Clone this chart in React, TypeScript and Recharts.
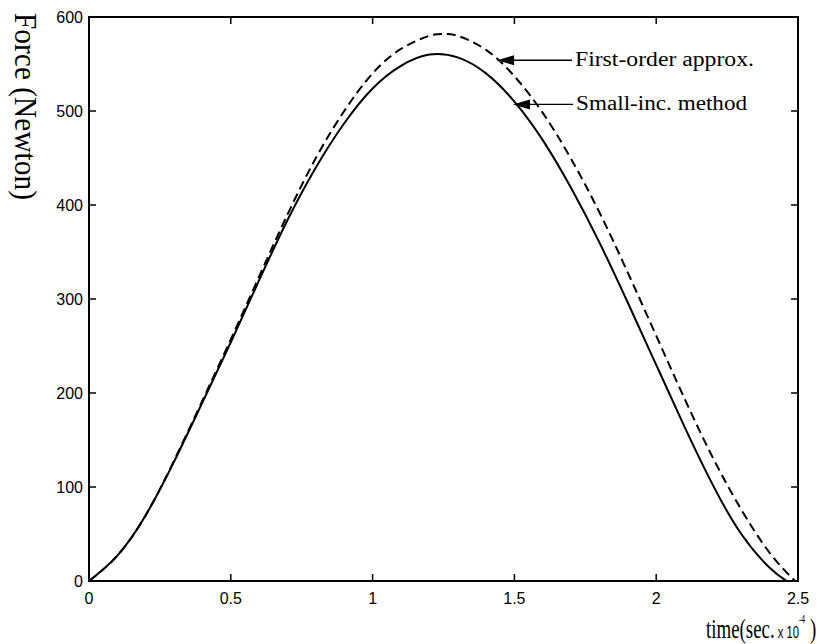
import React from 'react';
import { LineChart, Line, XAxis, YAxis, ReferenceArea, ReferenceLine } from 'recharts';

const W = 821;
const H = 644;
const MARGIN = { top: 17, right: 23, bottom: 33, left: 29 };
const Y_AXIS_W = 60;
const X_AXIS_H = 30;
const PLOT = {
  left: MARGIN.left + Y_AXIS_W,
  right: W - MARGIN.right,
  top: MARGIN.top,
  bottom: H - MARGIN.bottom - X_AXIS_H,
};

const xTicks = [0, 0.5, 1, 1.5, 2, 2.5];
const xTickLabels = ['0', '0.5', '1', '1.5', '2', '2.5'];
const yTicks = [0, 100, 200, 300, 400, 500, 600];
const yTickLabels = ['0', '100', '200', '300', '400', '500', '600'];

// Small-inc. method (solid)
const smallIncTime = [0, 0.1, 0.2, 0.3, 0.4, 0.5, 0.6, 0.7, 0.8, 0.9, 1.0, 1.1, 1.2, 1.3, 1.4, 1.5, 1.6, 1.7, 1.8, 1.9, 2.0, 2.1, 2.2, 2.3, 2.4, 2.46];
const smallIncForce = [0, 27, 70, 127, 190, 254, 320, 384, 440, 487, 524, 548, 560, 557, 540, 510, 469, 418, 360, 296, 230, 164, 102, 50, 14, 0];

// First-order approx. (dashed)
const firstOrderTime = [0, 0.1, 0.2, 0.3, 0.4, 0.5, 0.6, 0.7, 0.8, 0.9, 1.0, 1.1, 1.2, 1.25, 1.3, 1.4, 1.5, 1.6, 1.7, 1.8, 1.9, 2.0, 2.1, 2.2, 2.3, 2.4, 2.49];
const firstOrderForce = [0, 27, 70, 128, 192, 257, 324, 390, 450, 500, 540, 566, 580, 582, 580, 565, 537, 498, 449, 392, 328, 261, 194, 131, 76, 30, 0];

const annotationLabels = ['First-order approx.', 'Small-inc. method'];
const annotationTips = [
  { t: 1.439, f: 554 },
  { t: 1.495, f: 507 },
];
const annotationEndT = [1.703, 1.707];

const smallIncData = smallIncTime.map((t, i) => ({ t, f: smallIncForce[i] }));
const firstOrderData = firstOrderTime.map((t, i) => ({ t, f: firstOrderForce[i] }));

const SANS = 'Liberation Sans, Arial, Helvetica, sans-serif';
const SERIF = 'Liberation Serif, Times New Roman, Times, serif';
const TICK_LEN = 7;

const XTick = (props: any) => {
  const { x, payload } = props;
  const idx = xTicks.indexOf(payload.value);
  return (
    <g>
      <line x1={x} x2={x} y1={PLOT.bottom} y2={PLOT.bottom - TICK_LEN} stroke="#000" strokeWidth={1.5} />
      <line x1={x} x2={x} y1={PLOT.top} y2={PLOT.top + TICK_LEN} stroke="#000" strokeWidth={1.5} />
      <text x={x} y={PLOT.bottom + 23} textAnchor="middle" fontFamily={SANS} fontSize={16} fill="#000">
        {idx >= 0 ? xTickLabels[idx] : ''}
      </text>
    </g>
  );
};

const YTick = (props: any) => {
  const { y, payload } = props;
  const idx = yTicks.indexOf(payload.value);
  return (
    <g>
      <line x1={PLOT.left} x2={PLOT.left + TICK_LEN} y1={y} y2={y} stroke="#000" strokeWidth={1.5} />
      <line x1={PLOT.right} x2={PLOT.right - TICK_LEN} y1={y} y2={y} stroke="#000" strokeWidth={1.5} />
      <text x={PLOT.left - 6} y={y + 5.5} textAnchor="end" fontFamily={SANS} fontSize={16} fill="#000">
        {idx >= 0 ? yTickLabels[idx] : ''}
      </text>
    </g>
  );
};

const XTitle = () => {
  const base = PLOT.bottom + 57;
  return (
    <g transform={`translate(${PLOT.right - 92}, ${base}) scale(0.7, 1)`}>
      <text x={0} y={0} fill="#000">
        <tspan fontFamily={SERIF} fontSize={27}>time(sec.</tspan>
        <tspan fontFamily={SANS} fontSize={16}> x 10</tspan>
        <tspan fontFamily={SANS} fontSize={10} dy={-15}>-4</tspan>
        <tspan fontFamily={SERIF} fontSize={27} dy={15}> )</tspan>
      </text>
    </g>
  );
};

const YTitle = () => (
  <g transform={`translate(15, 13) rotate(90)`}>
    <text x={0} y={0} fontFamily={SERIF} fontSize={31} fill="#000" textLength={187} lengthAdjust="spacingAndGlyphs">
      Force (Newton)
    </text>
  </g>
);

const makeArrow = (text: string) => (props: any) => {
  const { x1, y1, x2 } = props;
  const head = 17;
  const hw = 5;
  return (
    <g>
      <line x1={x1 + head} y1={y1} x2={x2} y2={y1} stroke="#000" strokeWidth={1.3} />
      <polygon points={`${x1},${y1} ${x1 + head},${y1 - hw} ${x1 + head},${y1 + hw}`} fill="#000" />
      <text x={x2 + 3} y={y1 + 6} fontFamily={SERIF} fontSize={20} fill="#000" textLength={text.length > 17 ? 179 : 171} lengthAdjust="spacingAndGlyphs">
        {text}
      </text>
    </g>
  );
};

export default function App() {
  return (
    <div style={{ position: 'absolute', left: 0, top: 0, width: W, height: H, background: '#fff' }}>
      <LineChart width={W} height={H} margin={MARGIN}>
        <XAxis
          dataKey="t"
          type="number"
          domain={[0, 2.5]}
          ticks={xTicks}
          interval={0}
          allowDataOverflow
          height={X_AXIS_H}
          tickLine={false}
          axisLine={{ stroke: '#000', strokeWidth: 2 }}
          tick={(p: any) => <XTick {...p} />}
          label={() => <XTitle />}
        />
        <YAxis
          type="number"
          domain={[0, 600]}
          ticks={yTicks}
          interval={0}
          allowDataOverflow
          width={Y_AXIS_W}
          tickLine={false}
          axisLine={{ stroke: '#000', strokeWidth: 2 }}
          tick={(p: any) => <YTick {...p} />}
          label={() => <YTitle />}
        />
        <ReferenceArea x1={0} x2={2.5} y1={0} y2={600} fill="none" fillOpacity={0} stroke="#000" strokeWidth={2} strokeOpacity={1} />
        <Line
          data={firstOrderData}
          dataKey="f"
          type="natural"
          stroke="#000"
          strokeWidth={2}
          strokeDasharray="9 5"
          dot={false}
          activeDot={false}
          isAnimationActive={false}
        />
        <Line
          data={smallIncData}
          dataKey="f"
          type="natural"
          stroke="#000"
          strokeWidth={2}
          dot={false}
          activeDot={false}
          isAnimationActive={false}
        />
        {annotationLabels.map((lab, i) => (
          <ReferenceLine
            key={lab}
            segment={[
              { x: annotationTips[i].t, y: annotationTips[i].f },
              { x: annotationEndT[i], y: annotationTips[i].f },
            ]}
            stroke="#000"
            shape={makeArrow(lab)}
          />
        ))}
      </LineChart>
    </div>
  );
}
